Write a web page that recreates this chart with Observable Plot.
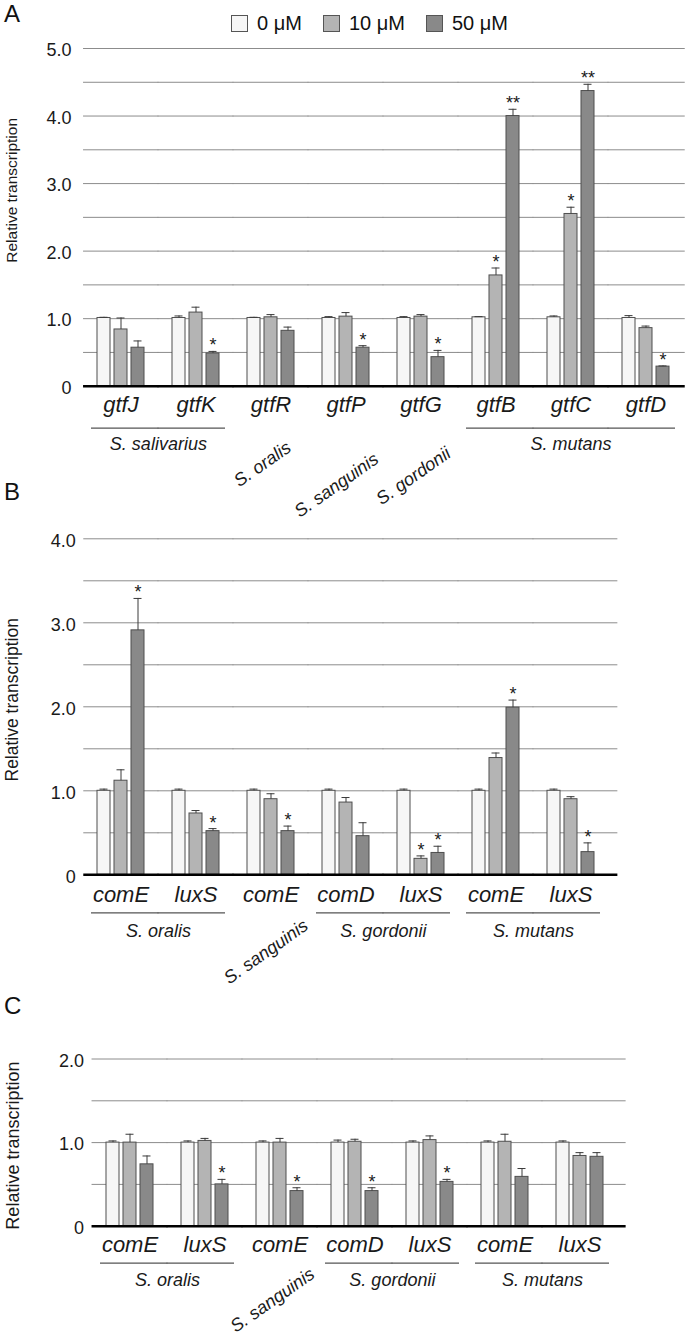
<!DOCTYPE html>
<html>
<head>
<meta charset="utf-8">
<script src="https://cdn.jsdelivr.net/npm/d3@7"></script>
<script src="https://cdn.jsdelivr.net/npm/@observablehq/plot@0.6"></script>
<style>
  body { margin: 0; background: #fff; font-family: "Liberation Sans", Arial, Helvetica, sans-serif; }
  #wrap { position: relative; width: 685px; height: 1335px; overflow: hidden; background: #fff; }
  .panel { position: absolute; left: 0; }
  .letter { position: absolute; left: 4px; font-size: 24px; line-height: 24px; color: #111; }
  #legend { position: absolute; left: 231px; top: 13px; display: flex; align-items: center; font-size: 20px; line-height: 20px; color: #111; }
  .item { display: flex; align-items: center; margin-right: 21px; }
  .sw { width: 17px; height: 17px; border: 1px solid #555; box-sizing: border-box; margin-right: 9px; }
</style>
</head>
<body>
<div id="wrap">
  <div class="letter" style="top:2px">A</div>
  <div class="letter" style="top:480px">B</div>
  <div class="letter" style="top:994px">C</div>
  <div id="legend"></div>
  <div class="panel" id="pA" style="top:36px"></div>
  <div class="panel" id="pB" style="top:505px"></div>
  <div class="panel" id="pC" style="top:990px"></div>
</div>
<script>
// ---------- data ----------
const concentrations = ["0 μM", "10 μM", "50 μM"];
const barFills = ["#f6f6f6", "#b4b4b4", "#898989"];

// Panel A
const genesA = ["gtfJ", "gtfK", "gtfR", "gtfP", "gtfG", "gtfB", "gtfC", "gtfD"];
const speciesA = ["S. salivarius", "S. salivarius", "S. oralis", "S. sanguinis", "S. gordonii", "S. mutans", "S. mutans", "S. mutans"];
const valuesA = [
  [1.01, 0.84, 0.57],
  [1.01, 1.09, 0.485],
  [1.01, 1.02, 0.82],
  [1.01, 1.03, 0.57],
  [1.01, 1.03, 0.43],
  [1.02, 1.64, 4.00],
  [1.02, 2.55, 4.37],
  [1.01, 0.86, 0.29]
];
const errorsA = [
  [0.01, 0.17, 0.10],
  [0.03, 0.08, 0.03],
  [0.01, 0.04, 0.055],
  [0.02, 0.06, 0.03],
  [0.02, 0.03, 0.10],
  [0.01, 0.11, 0.10],
  [0.02, 0.10, 0.10],
  [0.035, 0.03, 0.01]
];
const signifA = [
  ["", "", ""], ["", "", "*"], ["", "", ""], ["", "", "*"],
  ["", "", "*"], ["", "*", "**"], ["", "*", "**"], ["", "", "*"]
];
const yTicksA = [0, 1, 2, 3, 4, 5];
const gridA = [0.5, 1, 1.5, 2, 2.5, 3, 3.5, 4, 4.5, 5];

// Panel B
const genesB = ["comE", "luxS", "comE", "comD", "luxS", "comE", "luxS"];
const speciesB = ["S. oralis", "S. oralis", "S. sanguinis", "S. gordonii", "S. gordonii", "S. mutans", "S. mutans"];
const valuesB = [
  [1.0, 1.12, 2.91],
  [1.0, 0.73, 0.52],
  [1.0, 0.90, 0.52],
  [1.0, 0.86, 0.46],
  [1.0, 0.19, 0.26],
  [1.0, 1.39, 1.99],
  [1.0, 0.90, 0.27]
];
const errorsB = [
  [0.02, 0.13, 0.38],
  [0.02, 0.035, 0.03],
  [0.02, 0.065, 0.06],
  [0.02, 0.06, 0.16],
  [0.02, 0.035, 0.08],
  [0.02, 0.06, 0.09],
  [0.02, 0.03, 0.11]
];
const signifB = [
  ["", "", "*"], ["", "", "*"], ["", "", "*"], ["", "", ""],
  ["", "*", "*"], ["", "", "*"], ["", "", "*"]
];
const yTicksB = [0, 1, 2, 3, 4];
const gridB = [0.5, 1, 1.5, 2, 2.5, 3, 3.5, 4];

// Panel C
const genesC = ["comE", "luxS", "comE", "comD", "luxS", "comE", "luxS"];
const speciesC = ["S. oralis", "S. oralis", "S. sanguinis", "S. gordonii", "S. gordonii", "S. mutans", "S. mutans"];
const valuesC = [
  [1.0, 1.0, 0.74],
  [1.0, 1.02, 0.50],
  [1.0, 1.0, 0.42],
  [1.0, 1.01, 0.42],
  [1.0, 1.03, 0.53],
  [1.0, 1.01, 0.59],
  [1.0, 0.84, 0.83]
];
const errorsC = [
  [0.02, 0.10, 0.10],
  [0.02, 0.03, 0.06],
  [0.02, 0.05, 0.04],
  [0.03, 0.03, 0.04],
  [0.02, 0.05, 0.03],
  [0.02, 0.09, 0.10],
  [0.02, 0.04, 0.05]
];
const signifC = [
  ["", "", ""], ["", "", "*"], ["", "", "*"], ["", "", "*"],
  ["", "", "*"], ["", "", ""], ["", "", ""]
];
const yTicksC = [0, 1, 2];
const gridC = [0.5, 1, 1.5, 2];

// ---------- legend ----------
const legend = document.getElementById("legend");
concentrations.forEach((c, i) => {
  const item = document.createElement("div");
  item.className = "item";
  const sw = document.createElement("div");
  sw.className = "sw";
  sw.style.background = barFills[i];
  const t = document.createElement("span");
  t.textContent = c;
  item.appendChild(sw);
  item.appendChild(t);
  legend.appendChild(item);
});

// ---------- chart ----------
const FONT = "'Liberation Sans', Arial, Helvetica, sans-serif";
const PI_FX = 0.37;

function makePanel(p) {
  const n = p.genes.length;
  const keys = p.genes.map((g, i) => `${i}|${g}`);
  const bars = [];
  p.genes.forEach((g, i) => concentrations.forEach((c, j) => bars.push({
    key: keys[i], conc: c, value: p.values[i][j], err: p.errors[i][j], sig: p.signif[i][j]
  })));
  const geneRows = p.genes.map((g, i) => {
    const members = p.species.map((s, k) => (s === p.species[i] ? k : -1)).filter(k => k >= 0);
    return {key: keys[i], gene: g, species: p.species[i], count: members.length, pos: members.indexOf(i)};
  });
  // band geometry of the fx scale (lets rules span the gaps between facets)
  const R = 685 - p.marginLeft - p.marginRight;
  const step = R / (n - PI_FX + 2 * p.paddingOuter);
  const halfGap = step * PI_FX / 2;
  const outer = R - step * (n - PI_FX);
  const leftOff = outer * p.align;
  const rightOff = outer * (1 - p.align);

  const multi = geneRows.filter(d => d.count > 1);
  const first = multi.filter(d => d.pos === 0);
  const mid = multi.filter(d => d.pos > 0 && d.pos < d.count - 1);
  const last = multi.filter(d => d.pos === d.count - 1);
  const txt = {fontFamily: FONT, fill: "#1a1a1a"};
  const lineStyle = {stroke: "#555", strokeWidth: 1.2};

  function spanRules(values, style) {
    const rows = k => values.map(v => ({key: k, v}));
    return [
      Plot.ruleY(rows(keys[0]), {fx: "key", y: "v", insetLeft: -leftOff, insetRight: -halfGap - 0.5, ...style}),
      Plot.ruleY(keys.slice(1, -1).flatMap(rows), {fx: "key", y: "v", insetLeft: -halfGap - 0.5, insetRight: -halfGap - 0.5, ...style}),
      Plot.ruleY(rows(keys[n - 1]), {fx: "key", y: "v", insetLeft: -halfGap - 0.5, insetRight: -rightOff, ...style})
    ];
  }

  const tickRows = p.yTicks.map(v => ({key: keys[0], v}));

  const marks = [
    ...spanRules(p.grid, {stroke: "#8c8c8c", strokeWidth: 1}),
    Plot.barY(bars, {fx: "key", x: "conc", y: "value", fill: "conc", stroke: "#4f4f4f", strokeWidth: 1}),
    Plot.ruleX(bars, {fx: "key", x: "conc", y1: "value", y2: d => d.value + d.err, stroke: "#3a3a3a", strokeWidth: 1}),
    Plot.tickY(bars, {fx: "key", x: "conc", y: d => d.value + d.err, stroke: "#3a3a3a", strokeWidth: 1, insetLeft: 2.5, insetRight: 2.5}),
    ...spanRules([0], {stroke: "#000", strokeWidth: 2.5}),
    Plot.text(bars.filter(d => d.sig), {fx: "key", x: "conc", y: d => d.value + d.err, text: "sig",
      textAnchor: "middle", lineAnchor: "bottom", dy: 0, fontSize: 18, ...txt}),
    Plot.text(tickRows, {fx: "key", y: "v", frameAnchor: "left", text: d => (d.v === 0 ? "0" : d.v.toFixed(1)),
      textAnchor: "end", lineAnchor: "middle", dx: -(leftOff + p.tickPadding), dy: 2, fontSize: 18, ...txt}),
    Plot.text([{key: keys[0], t: "Relative transcription"}], {fx: "key", frameAnchor: "left", text: "t", rotate: -90,
      textAnchor: "middle", lineAnchor: "top", dx: 5 - p.marginLeft - leftOff, dy: p.titleDy, fontSize: p.titleSize, ...txt}),
    Plot.text(geneRows, {fx: "key", frameAnchor: "bottom", text: "gene", textAnchor: "middle", lineAnchor: "top",
      dy: p.geneDy, fontSize: 22, fontStyle: "italic", ...txt}),
    Plot.ruleY(first, {fx: "key", y: () => 0, dy: p.lineDy, insetLeft: -6, insetRight: -halfGap - 0.5, ...lineStyle}),
    Plot.ruleY(mid, {fx: "key", y: () => 0, dy: p.lineDy, insetLeft: -halfGap - 0.5, insetRight: -halfGap - 0.5, ...lineStyle}),
    Plot.ruleY(last, {fx: "key", y: () => 0, dy: p.lineDy, insetLeft: -halfGap - 0.5, insetRight: -6, ...lineStyle}),
    Plot.text(first.filter(d => d.count === 2), {fx: "key", frameAnchor: "bottom-right", text: "species",
      textAnchor: "middle", lineAnchor: "top", dx: halfGap, dy: p.speciesDy, fontSize: 18, fontStyle: "italic", ...txt}),
    Plot.text(mid.filter(d => d.count === 3), {fx: "key", frameAnchor: "bottom", text: "species",
      textAnchor: "middle", lineAnchor: "top", dy: p.speciesDy, fontSize: 18, fontStyle: "italic", ...txt})
  ];
  geneRows.filter(d => d.count === 1).forEach(d => {
    const off = p.singles[d.species];
    marks.push(Plot.text([d], {fx: "key", frameAnchor: "bottom", text: "species", rotate: -35,
      textAnchor: "middle", lineAnchor: "middle", dx: off[0], dy: off[1], fontSize: 18, fontStyle: "italic", ...txt}));
  });

  return Plot.plot({
    width: 685,
    height: p.height,
    marginTop: p.marginTop,
    marginBottom: p.marginBottom,
    marginLeft: p.marginLeft,
    marginRight: p.marginRight,
    fx: {domain: keys, paddingInner: PI_FX, paddingOuter: p.paddingOuter, align: p.align, axis: null, label: null},
    x: {domain: concentrations, paddingInner: 0.24, paddingOuter: 0, axis: null},
    y: {domain: [0, p.yMax], axis: null},
    color: {domain: concentrations, range: barFills},
    style: {fontFamily: FONT, background: "transparent", overflow: "visible"},
    marks
  });
}

document.getElementById("pA").appendChild(makePanel({
  genes: genesA, species: speciesA, values: valuesA, errors: errorsA, signif: signifA,
  yTicks: yTicksA, grid: gridA, yMax: 5,
  height: 469, marginTop: 12, marginBottom: 119.3, marginLeft: 83, marginRight: 0,
  paddingOuter: 0.198, align: 0.47, tickPadding: 12, titleSize: 15.5, titleDy: -27,
  geneDy: 10, lineDy: 42, speciesDy: 51,
  singles: {"S. oralis": [-8.5, 78], "S. sanguinis": [-9.5, 99], "S. gordonii": [-7.5, 90]}
}));

document.getElementById("pB").appendChild(makePanel({
  genes: genesB, species: speciesB, values: valuesB, errors: errorsB, signif: signifB,
  yTicks: yTicksB, grid: gridB, yMax: 4,
  height: 485, marginTop: 33.3, marginBottom: 115.7, marginLeft: 83, marginRight: 67,
  paddingOuter: 0.247, align: 0.37, tickPadding: 8, titleSize: 17.5, titleDy: -7,
  geneDy: 12, lineDy: 38, speciesDy: 49,
  singles: {"S. sanguinis": [-5, 77]}
}));

document.getElementById("pC").appendChild(makePanel({
  genes: genesC, species: speciesC, values: valuesC, errors: errorsC, signif: signifC,
  yTicks: yTicksC, grid: gridC, yMax: 2,
  height: 345, marginTop: 68.5, marginBottom: 109.3, marginLeft: 91, marginRight: 59,
  paddingOuter: 0.247, align: 0.39, tickPadding: 8, titleSize: 18, titleDy: 3,
  geneDy: 10, lineDy: 37, speciesDy: 47,
  singles: {"S. sanguinis": [-7.5, 74]}
}));
</script>
</body>
</html>
